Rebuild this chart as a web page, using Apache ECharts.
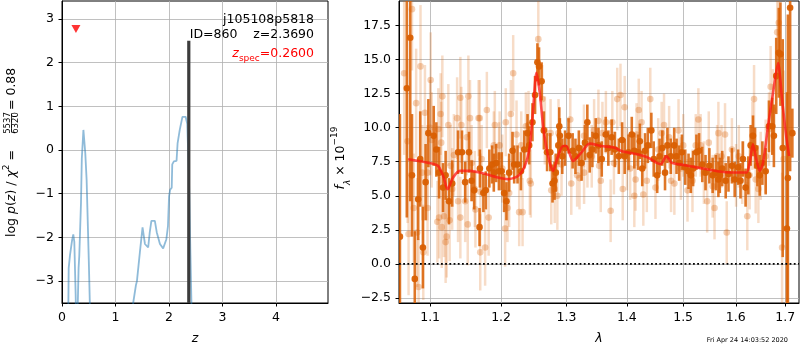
<!DOCTYPE html>
<html>
<head>
<meta charset="utf-8">
<script src="https://cdn.jsdelivr.net/npm/echarts@6/dist/echarts.min.js"></script>
<style>
  html, body { margin: 0; padding: 0; background: #fff; }
  #chart { width: 800px; height: 350px; }
</style>
</head>
<body>
<div id="chart"></div>
<script>
// ---------------- redshift probability panel ----------------
const zTicks = [0, 1, 2, 3, 4];
const logpTicks = [-3, -2, -1, 0, 1, 2, 3];

// log p(z) along the redshift grid (drops far below the axis floor between peaks)
const pzZ = [0.00, 0.10, 0.118, 0.125, 0.15, 0.19, 0.211, 0.23, 0.255, 0.272, 0.29, 0.31, 0.323, 0.34, 0.355, 0.37, 0.40, 0.435, 0.46, 0.47, 0.50, 0.52, 0.54, 0.60,
             1.20, 1.31, 1.33, 1.38, 1.40, 1.455, 1.505, 1.53, 1.55, 1.61, 1.64, 1.67, 1.735, 1.77, 1.83, 1.89, 1.95, 1.98, 2.00, 2.02, 2.05, 2.06, 2.09, 2.14, 2.16, 2.20, 2.25, 2.28, 2.31, 2.34, 2.37, 2.40, 2.43, 2.50, 4.97];
const pzLog = [-9, -6, -3.6, -2.7, -2.4, -2.05, -1.93, -2.1, -3.3, -4.6, -3.8, -2.7, -2.42, -2.43, -1.2, -0.2, 0.46, -0.07, -0.68, -1.13, -2.5, -3.5, -4.4, -9,
               -9, -4.4, -3.5, -3.1, -3.0, -2.34, -1.77, -1.8, -2.15, -2.23, -1.88, -1.62, -1.62, -1.88, -2.15, -2.25, -2.04, -1.74, -1.06, -0.91, -0.86, -0.33, -0.26, -0.25, 0.16, 0.46, 0.76, 0.79, 0.76, 0.6, -0.5, -2.4, -4.2, -9, -9];

const zBest = 2.3690;
const zBestBarTop = 2.5;
const zSpec = 0.2600;
const zSpecMarkerLogp = 2.77;
const chi2Num = 5537, chi2Den = 6320;
const objectName = 'j105108p5818';
const objectId = 860;

// ---------------- spectrum panel ----------------
const lamTicks = [1.1, 1.2, 1.3, 1.4, 1.5, 1.6, 1.7];
const fluxTicks = [-2.5, 0, 2.5, 5, 7.5, 10, 12.5, 15, 17.5];
const lamRange = [1.0588, 1.729];
const fluxRange = [-2.87, 19.3];

// first grism spectrum: [wavelength (micron), flux (1e-19), error]
const spec1 = [
  [1.0600, 2.0, 9.0], [1.0690, 12.9, 9.5], [1.0735, 16.6, 12.0], [1.0758, 6.5, 4.5], [1.0795, -1.1, 3.5],
  [1.0840, 4.75, 3.0], [1.0867, 7.7, 3.5], [1.0903, 1.2, 3.0], [1.0939, 6.0, 2.8], [1.0976, 9.6, 2.5],
  [1.1048, 9.4, 2.2], [1.1084, 8.4, 2.0], [1.1121, 6.7, 1.9], [1.1175, 5.6, 1.8], [1.1211, 6.5, 1.8],
  [1.1257, 4.6, 1.7], [1.1302, 5.9, 1.7], [1.1383, 8.2, 1.6], [1.1438, 8.2, 1.6], [1.1483, 6.0, 1.5],
  [1.1537, 8.2, 1.5], [1.1574, 6.1, 1.5], [1.1610, 5.4, 1.4], [1.1687, 2.7, 1.4],
  [1.1692, 7.0, 1.4], [1.1742, 5.2, 1.4], [1.1777, 5.4, 1.4], [1.1828, 7.0, 1.4], [1.1868, 7.3, 1.4],
  [1.1893, 6.7, 1.4], [1.1928, 7.4, 1.4], [1.1968, 6.8, 1.4], [1.2008, 6.8, 1.4], [1.2044, 5.2, 1.4],
  [1.2079, 4.6, 1.4], [1.2119, 6.7, 1.4], [1.2169, 8.3, 1.4], [1.2194, 7.3, 1.4], [1.2244, 7.3, 1.4],
  [1.2295, 6.8, 1.4], [1.2345, 8.4, 1.4], [1.2395, 9.6, 1.4], [1.2420, 8.7, 1.4], [1.2470, 10.4, 1.4],
  [1.2510, 12.4, 1.4], [1.2546, 14.8, 1.4], [1.2571, 14.5, 1.4], [1.2611, 13.4, 1.4], [1.2646, 9.8, 1.4],
  [1.2696, 8.2, 1.4], [1.2746, 8.2, 1.4], [1.2781, 5.9, 1.4], [1.2812, 6.1, 1.4], [1.2832, 6.7, 1.4],
  [1.2872, 8.7, 1.4], [1.2887, 10.1, 1.4],
  [1.2896, 9.4, 1.3], [1.2934, 7.9, 1.3], [1.2979, 8.5, 1.3], [1.3034, 9.4, 1.3], [1.3100, 8.3, 1.3],
  [1.3145, 7.9, 1.3], [1.3200, 8.5, 1.3], [1.3244, 7.4, 1.3], [1.3299, 8.9, 1.3], [1.3338, 10.4, 1.3],
  [1.3377, 8.0, 1.3], [1.3421, 8.4, 1.3], [1.3476, 9.4, 1.3], [1.3521, 8.7, 1.3], [1.3576, 7.7, 1.3],
  [1.3642, 9.5, 1.3], [1.3686, 8.5, 1.3], [1.3742, 9.3, 1.3], [1.3797, 8.4, 1.3], [1.3863, 7.9, 1.3],
  [1.3919, 9.1, 1.3], [1.3963, 7.9, 1.3], [1.4029, 8.2, 1.3], [1.4085, 9.5, 1.3], [1.4129, 8.3, 1.3],
  [1.4195, 8.2, 1.3],
  [1.4225, 9.0, 1.3], [1.4267, 7.0, 1.3], [1.4316, 8.3, 1.3], [1.4365, 8.7, 1.3], [1.4427, 9.8, 1.3],
  [1.4469, 7.7, 1.3], [1.4531, 6.5, 1.3], [1.4573, 7.9, 1.3], [1.4622, 8.5, 1.3], [1.4671, 6.7, 1.3],
  [1.4714, 8.7, 1.3], [1.4775, 7.9, 1.3], [1.4837, 8.7, 1.3], [1.4880, 7.9, 1.3], [1.4928, 7.4, 1.3],
  [1.4977, 8.2, 1.3], [1.5039, 7.1, 1.3], [1.5100, 6.8, 1.3], [1.5143, 6.5, 1.3], [1.5185, 7.0, 1.3],
  [1.5247, 8.2, 1.3], [1.5296, 8.3, 1.3], [1.5357, 7.3, 1.3], [1.5418, 6.7, 1.3], [1.5491, 7.2, 1.3],
  [1.5553, 6.5, 1.3], [1.5614, 6.7, 1.3], [1.5663, 6.2, 1.3],
  [1.5690, 6.5, 1.3], [1.5737, 7.0, 1.3], [1.5804, 6.1, 1.3], [1.5858, 6.6, 1.3], [1.5925, 7.2, 1.3],
  [1.5979, 6.2, 1.3], [1.6046, 7.1, 1.3], [1.6093, 6.1, 1.3], [1.6141, 7.7, 1.3], [1.6194, 5.6, 1.4],
  [1.6248, 6.5, 1.4], [1.6295, 8.7, 1.5], [1.6342, 9.4, 1.5], [1.6383, 8.5, 1.5], [1.6430, 7.2, 1.5],
  [1.6477, 6.5, 1.5], [1.6531, 7.4, 1.6], [1.6598, 6.8, 1.7], [1.6665, 10.1, 1.9], [1.6733, 10.1, 2.1],
  [1.6766, 9.4, 2.3], [1.6814, 13.8, 2.8], [1.6867, 15.5, 3.3], [1.6901, 15.4, 3.8], [1.6948, 8.5, 8.0],
  [1.7036, 2.6, 10.0], [1.7056, 6.3, 12.0], [1.7103, 18.8, 12.0], [1.7150, 9.6, 1.8]
];

// second grism spectrum: [wavelength (micron), flux (1e-19), error]
const spec2 = [
  [1.0655, 14.0, 6.0], [1.0700, 9.0, 6.0], [1.0758, 18.7, 4.5], [1.0871, 14.5, 4.5], [1.1007, 13.5, 3.5],
  [1.0813, 11.8, 4.0], [1.0930, 11.1, 3.5], [1.1166, 12.3, 3.0], [1.1143, 11.0, 3.0], [1.1415, 12.2, 3.0],
  [1.1528, 12.3, 3.0], [1.1370, 10.7, 3.0], [1.1429, 10.2, 2.8], [1.1551, 10.7, 2.8], [1.1673, 10.7, 2.8],
  [1.1248, 10.2, 3.0], [1.1111, 9.9, 3.0], [1.1021, 9.1, 3.5], [1.1150, 8.9, 3.0], [1.1325, 8.0, 3.0],
  [1.1506, 9.3, 2.8], [1.1279, 7.2, 3.0], [1.0894, 6.7, 3.5], [1.0962, 6.7, 3.5], [1.1302, 5.5, 3.0],
  [1.1383, 4.6, 3.0], [1.1483, 4.6, 3.0], [1.1619, 5.5, 2.8], [1.0781, 4.1, 4.0], [1.0965, 4.1, 3.5],
  [1.1121, 3.4, 3.0], [1.1189, 3.5, 3.0], [1.1266, 3.2, 3.0], [1.1157, 2.7, 3.0], [1.1098, 3.1, 3.0],
  [1.0713, 2.2, 4.5], [1.0826, 2.3, 4.0], [1.1225, 2.0, 3.0], [1.1211, 1.6, 3.0], [1.1415, 3.4, 3.0],
  [1.1519, 2.9, 3.0], [1.1628, 4.0, 2.8], [1.0845, -1.7, 3.5], [1.0908, 0.85, 3.5], [1.1574, 7.4, 2.8],
  [1.1000, 10.0, 3.5],
  [1.1697, 0.85, 2.8], [1.1767, 1.2, 2.8], [1.1700, 5.3, 2.8], [1.1792, 11.3, 2.8], [1.1690, 10.7, 2.8],
  [1.1893, 8.7, 2.5], [1.1908, 10.2, 2.5], [1.1978, 8.7, 2.5], [1.2069, 10.4, 2.5], [1.2144, 11.0, 2.5],
  [1.2179, 14.0, 2.8], [1.2018, 7.0, 2.5], [1.1818, 3.4, 2.8], [1.2059, 2.6, 2.8], [1.2094, 4.1, 2.5],
  [1.2119, 5.2, 2.5], [1.2269, 3.8, 2.5], [1.2320, 3.8, 2.5], [1.2229, 9.5, 2.5], [1.2300, 8.7, 2.5],
  [1.2370, 10.1, 2.5], [1.2410, 10.2, 2.5], [1.2430, 6.1, 2.5], [1.2445, 5.9, 2.5], [1.2560, 16.5, 2.8],
  [1.2621, 12.1, 2.5], [1.2661, 9.8, 2.5], [1.2750, 9.6, 2.5], [1.2761, 5.4, 2.5], [1.2815, 5.5, 2.5],
  [1.2857, 5.0, 2.5], [1.2875, 9.6, 2.5], [1.1717, 7.7, 2.5], [1.1970, 7.9, 2.5],
  [1.2923, 7.3, 2.3], [1.3062, 10.6, 2.3], [1.3078, 5.9, 2.3], [1.3172, 6.5, 2.3], [1.3211, 6.3, 2.3],
  [1.3283, 9.4, 2.3], [1.3340, 7.9, 2.3], [1.3410, 7.9, 2.3], [1.3449, 9.8, 2.3], [1.3521, 10.5, 2.3],
  [1.3559, 6.1, 2.3], [1.3587, 9.6, 2.3], [1.3645, 10.4, 2.3], [1.3725, 3.9, 2.3], [1.3753, 10.4, 2.3],
  [1.3780, 7.4, 2.3], [1.3836, 12.1, 2.3], [1.3891, 12.4, 2.3], [1.3930, 5.5, 2.3], [1.3963, 11.5, 2.3],
  [1.4002, 7.7, 2.3], [1.4057, 7.0, 2.3], [1.4129, 5.0, 2.3], [1.4151, 6.2, 2.3], [1.4168, 9.5, 2.3],
  [1.4206, 11.3, 2.3], [1.3532, 7.2, 2.3], [1.3285, 6.7, 2.3],
  [1.4408, 12.1, 2.3], [1.4286, 5.1, 2.3], [1.4347, 6.1, 2.3], [1.4500, 5.6, 2.3], [1.4610, 9.6, 2.3],
  [1.4653, 10.2, 2.3], [1.4745, 9.3, 2.3], [1.4780, 6.1, 2.3], [1.4840, 5.9, 2.3], [1.4916, 9.8, 2.3],
  [1.4959, 7.0, 2.3], [1.5081, 5.4, 2.3], [1.5173, 6.1, 2.3], [1.5234, 8.7, 2.3], [1.5283, 10.6, 2.3],
  [1.5326, 8.7, 2.3], [1.5387, 6.7, 2.3], [1.5449, 4.6, 2.3], [1.5479, 8.9, 2.3], [1.5553, 5.7, 2.3],
  [1.5589, 4.1, 2.3], [1.5638, 7.9, 2.3], [1.4255, 10.4, 2.3], [1.4549, 8.4, 2.3], [1.5002, 8.7, 2.3],
  [1.5663, 9.6, 2.3],
  [1.5791, 9.5, 2.3], [1.5824, 2.3, 2.3], [1.5925, 8.4, 2.3], [1.6006, 6.5, 2.3], [1.6060, 7.9, 2.3],
  [1.6127, 6.7, 2.3], [1.6228, 3.5, 2.5], [1.6329, 9.4, 2.5], [1.6363, 12.1, 2.5], [1.6396, 6.2, 2.5],
  [1.6450, 5.5, 2.5], [1.6497, 7.2, 2.5], [1.6598, 7.9, 2.7], [1.6699, 13.0, 3.0], [1.6746, 11.3, 3.0],
  [1.6834, 17.0, 3.5], [1.6867, 17.7, 4.0], [1.6935, 1.2, 5.5], [1.6968, 7.7, 6.5], [1.6665, 9.9, 2.7],
  [1.5723, 7.9, 2.3], [1.6275, 6.5, 2.5]
];

// best-fit template at z_best
const modelWave = [1.0707, 1.1000, 1.1108, 1.1177, 1.1236, 1.1255, 1.1314, 1.1408, 1.1548, 1.1691, 1.1956, 1.2104,
                   1.2252, 1.2354, 1.2430, 1.2480, 1.2531, 1.2583, 1.2634, 1.2711, 1.2789, 1.2868, 1.2947, 1.2998,
                   1.3105, 1.3240, 1.3377, 1.3569, 1.3793, 1.3906, 1.4224, 1.4369, 1.4515, 1.4594, 1.4695, 1.4785,
                   1.4998, 1.5276, 1.5688, 1.5912, 1.6208, 1.6276, 1.6341, 1.6408, 1.6477, 1.6545, 1.6646, 1.6748,
                   1.6852, 1.6935, 1.7012, 1.7082];
const modelFlux = [7.68, 7.39, 7.19, 6.46, 5.49, 5.61, 6.34, 6.83, 6.83, 6.71, 6.34, 6.22,
                   6.46, 7.19, 8.65, 11.34, 14.02, 12.56, 10.12, 7.92, 6.83, 7.92, 8.65, 8.65,
                   7.56, 8.17, 8.83, 8.65, 8.53, 8.29, 8.00, 7.80, 7.44, 7.32, 7.92, 7.44,
                   7.27, 7.07, 6.78, 6.71, 6.71, 7.44, 8.78, 7.68, 6.83, 7.44, 10.12, 12.56,
                   14.75, 12.07, 9.63, 7.92];

const stampText = 'Fri Apr 24 14:03:52 2020';

// ---------------- styling ----------------
const FONT = 'DejaVu Sans';
const FS = 12.5;
const GRID_LINE = { color: '#b0b0b0', width: 0.8 };
const SPEC_COLOR = '217,95,2';

function signed(v, digits) {
  const s = Math.abs(v).toFixed(digits);
  return (v < 0 ? '\u2212' : '') + s;
}

function valueAxis(gridIndex, min, max, ticks, formatter, extra) {
  return Object.assign({
    type: 'value', gridIndex, min, max,
    axisLine: { show: true, onZero: false, lineStyle: { color: '#000', width: 1 } },
    axisTick: { show: true, length: 3.5, lineStyle: { color: '#000', width: 1 }, customValues: ticks },
    axisLabel: { customValues: ticks, formatter, color: '#000', fontSize: FS, fontFamily: FONT, margin: 8 },
    splitLine: { show: true, lineStyle: GRID_LINE }
  }, extra || {});
}

function errorBars(lineColor, dotColor, lineWidth, radius) {
  return function (params, api) {
    const x = api.value(0), y = api.value(1), e = api.value(2);
    const lo = api.coord([x, y - e]);
    const hi = api.coord([x, y + e]);
    const c = api.coord([x, y]);
    return {
      type: 'group',
      children: [
        { type: 'line', shape: { x1: lo[0], y1: lo[1], x2: hi[0], y2: hi[1] },
          style: { stroke: lineColor, lineWidth } },
        { type: 'circle', shape: { cx: c[0], cy: c[1], r: radius }, style: { fill: dotColor } }
      ]
    };
  };
}

const lnLam = v => Math.log(v);

const chart = echarts.init(document.getElementById('chart'), null, { renderer: 'canvas' });

const nameStyle = { fontSize: FS, fontStyle: 'italic', color: '#000', fontFamily: FONT };

const option = {
  animation: false,
  backgroundColor: '#fff',
  textStyle: { fontFamily: FONT },
  grid: [
    { left: 62, top: 1, width: 266, height: 303, show: true, borderColor: '#000', borderWidth: 1, backgroundColor: 'transparent' },
    { left: 399, top: 1, width: 400, height: 303, show: true, borderColor: '#000', borderWidth: 1, backgroundColor: 'transparent' }
  ],
  xAxis: [
    valueAxis(0, 0, 4.97, zTicks, v => String(v), {
      name: 'z', nameLocation: 'middle', nameGap: 29, nameTextStyle: nameStyle
    }),
    valueAxis(1, lnLam(lamRange[0]), lnLam(lamRange[1]), lamTicks.map(lnLam), v => Math.exp(v).toFixed(1), {
      name: '\u03bb', nameLocation: 'middle', nameGap: 29, nameTextStyle: nameStyle
    })
  ],
  yAxis: [
    valueAxis(0, -3.5, 3.41, logpTicks, v => signed(v, 0)),
    valueAxis(1, fluxRange[0], fluxRange[1], fluxTicks, v => signed(v, 1))
  ],
  series: [
    {
      type: 'line', xAxisIndex: 0, yAxisIndex: 0, showSymbol: false, clip: true,
      data: pzZ.map((z, i) => [z, pzLog[i]]),
      lineStyle: { color: 'rgba(31,119,180,0.5)', width: 1.8 }, z: 2
    },
    {
      type: 'line', xAxisIndex: 0, yAxisIndex: 0, showSymbol: false, clip: true,
      data: [[zBest, -3.5], [zBest, zBestBarTop]],
      lineStyle: { color: '#3c3c3c', width: 3.2 }, z: 3
    },
    {
      type: 'scatter', xAxisIndex: 0, yAxisIndex: 0,
      data: [[zSpec, zSpecMarkerLogp]],
      symbol: 'triangle', symbolRotate: 180, symbolSize: [9, 8],
      itemStyle: { color: '#ff0000' }, z: 4
    },
    {
      type: 'custom', xAxisIndex: 1, yAxisIndex: 1, clip: true,
      data: spec2.map(p => [lnLam(p[0]), p[1], p[2]]),
      encode: { x: 0, y: 1 },
      renderItem: errorBars(`rgba(${SPEC_COLOR},0.22)`, `rgba(${SPEC_COLOR},0.3)`, 2.5, 3.3), z: 2
    },
    {
      type: 'custom', xAxisIndex: 1, yAxisIndex: 1, clip: true,
      data: spec1.map(p => [lnLam(p[0]), p[1], p[2]]),
      encode: { x: 0, y: 1 },
      renderItem: errorBars(`rgba(${SPEC_COLOR},0.85)`, `rgba(${SPEC_COLOR},0.95)`, 2.6, 3.3), z: 3
    },
    {
      type: 'line', xAxisIndex: 1, yAxisIndex: 1, showSymbol: false, clip: true, smooth: 0.25,
      data: modelWave.map((w, i) => [lnLam(w), modelFlux[i]]),
      lineStyle: { color: 'rgba(255,20,20,0.72)', width: 2.6 }, z: 4
    },
    {
      type: 'line', xAxisIndex: 1, yAxisIndex: 1, showSymbol: false, clip: true,
      data: [[lnLam(lamRange[0]), 0], [lnLam(lamRange[1]), 0]],
      lineStyle: { color: '#000', width: 1.8, type: [1.8, 2.4] }, z: 5
    }
  ],
  graphic: [
    // labels in the corner of the p(z) panel
    { type: 'text', x: 314, y: 20, z: 10,
      style: { text: objectName, fontSize: FS, fontFamily: FONT, fill: '#000', align: 'right', verticalAlign: 'middle' } },
    { type: 'text', x: 314, y: 35, z: 10,
      style: { text: 'ID=' + objectId + '    z=' + zBest.toFixed(4), fontSize: FS, fontFamily: FONT, fill: '#000', align: 'right', verticalAlign: 'middle' } },
    { type: 'text', x: 314, y: 54, z: 10,
      style: {
        text: '{i|z}{s|spec}{m|=' + zSpec.toFixed(4) + '}', align: 'right', verticalAlign: 'middle',
        rich: {
          i: { fontSize: FS, fontFamily: FONT, fill: '#ff0000', lineHeight: 18, fontStyle: 'italic' },
          m: { fontSize: FS, fontFamily: FONT, fill: '#ff0000', lineHeight: 18 },
          s: { fontSize: 9, fontFamily: FONT, fill: '#ff0000', lineHeight: 10, verticalAlign: 'bottom' }
        }
      } },
    // y label of the p(z) panel, written bottom-to-top
    { type: 'group', x: 12, y: 154, rotation: Math.PI / 2, z: 10,
      children: [
        { type: 'text', x: 4, y: 0,
          style: {
            text: '{n|log }{i|p}{n|(}{i|z}{n|) / }{i|\u03c7}{u|2}{n| =}', align: 'right', verticalAlign: 'middle',
            rich: {
              n: { fontSize: FS, fontFamily: FONT, fill: '#000', lineHeight: 20 },
              i: { fontSize: FS, fontFamily: FONT, fill: '#000', lineHeight: 20, fontStyle: 'italic' },
              u: { fontSize: 9, fontFamily: FONT, fill: '#000', lineHeight: 12, verticalAlign: 'top' }
            }
          } },
        { type: 'text', x: 31, y: -4.5,
          style: { text: String(chi2Num), fontSize: 8.5, fontFamily: FONT, fill: '#000', align: 'center', verticalAlign: 'middle' } },
        { type: 'line', shape: { x1: 21.5, y1: -0.5, x2: 40.5, y2: -0.5 }, style: { stroke: '#000', lineWidth: 0.8 } },
        { type: 'text', x: 31, y: 4,
          style: { text: String(chi2Den), fontSize: 8.5, fontFamily: FONT, fill: '#000', align: 'center', verticalAlign: 'middle' } },
        { type: 'text', x: 44, y: 0,
          style: { text: '= ' + (chi2Num / chi2Den).toFixed(2), fontSize: FS, fontFamily: FONT, fill: '#000', align: 'left', verticalAlign: 'middle' } }
      ] },
    // y label of the spectrum panel
    { type: 'group', x: 341, y: 158, rotation: Math.PI / 2, z: 10,
      children: [
        { type: 'text', x: 0, y: 0,
          style: {
            text: '{i|f}{s|\u03bb}{n| \u00d7 10}{u|\u221219}', align: 'center', verticalAlign: 'middle',
            rich: {
              n: { fontSize: FS, fontFamily: FONT, fill: '#000', lineHeight: 22 },
              i: { fontSize: FS, fontFamily: FONT, fill: '#000', lineHeight: 22, fontStyle: 'italic' },
              s: { fontSize: 9, fontFamily: FONT, fill: '#000', lineHeight: 12, verticalAlign: 'bottom', fontStyle: 'italic' },
              u: { fontSize: 9, fontFamily: FONT, fill: '#000', lineHeight: 12, verticalAlign: 'top' }
            }
          } }
      ] },
    // time stamp
    { type: 'text', x: 788, y: 340, z: 10,
      style: { text: stampText, fontSize: 6.5, fontFamily: FONT, fill: '#000', align: 'right', verticalAlign: 'middle' } }
  ]
};

chart.setOption(option);
</script>
</body>
</html>
